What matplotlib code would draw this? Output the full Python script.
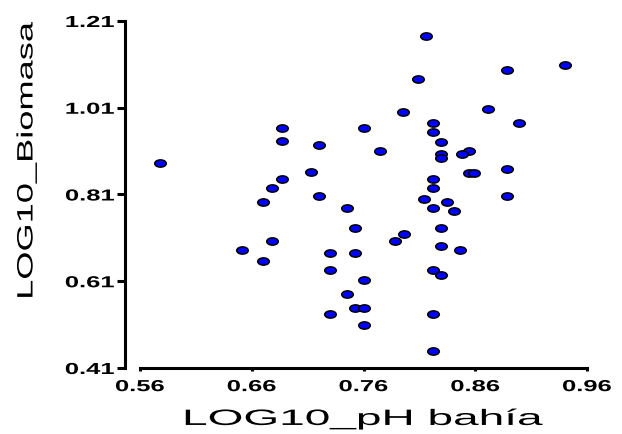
import matplotlib
matplotlib.use('Agg')
from matplotlib import pyplot as plt
from matplotlib.path import Path
from matplotlib.patheffects import AbstractPathEffect
from matplotlib.transforms import Affine2D

log_ph = [0.578, 0.687, 0.687, 0.720, 0.713, 0.687, 0.678, 0.720, 0.670, 0.678,
          0.651, 0.730, 0.670, 0.730, 0.730, 0.816, 0.888, 0.809, 0.795, 0.871,
          0.760, 0.822, 0.899, 0.822, 0.829, 0.775, 0.854, 0.848, 0.829, 0.829,
          0.854, 0.859, 0.888, 0.822, 0.822, 0.888, 0.814, 0.835, 0.745, 0.822,
          0.841, 0.752, 0.796, 0.788, 0.829, 0.829, 0.846, 0.752, 0.822, 0.829,
          0.760, 0.745, 0.752, 0.760, 0.822, 0.760, 0.822, 0.940]
log_biomasa = [0.883, 0.964, 0.933, 0.923, 0.863, 0.846, 0.826, 0.806, 0.793, 0.702,
               0.682, 0.676, 0.656, 0.635, 0.534, 1.175, 1.098, 1.077, 1.001, 1.007,
               0.964, 0.974, 0.974, 0.953, 0.930, 0.910, 0.910, 0.903, 0.904, 0.893,
               0.860, 0.860, 0.869, 0.846, 0.826, 0.806, 0.799, 0.793, 0.780, 0.780,
               0.773, 0.732, 0.719, 0.702, 0.732, 0.692, 0.682, 0.676, 0.635, 0.625,
               0.614, 0.581, 0.548, 0.548, 0.534, 0.508, 0.450, 1.108]
x_ticks = [0.56, 0.66, 0.76, 0.86, 0.96]
y_ticks = [0.41, 0.61, 0.81, 1.01, 1.21]
x_label = 'LOG10_pH bahía'
y_label = 'LOG10_Biomasa'


class Stretch(AbstractPathEffect):
    # widen glyphs along the text direction (the source image text is stretched)
    def __init__(self, sx, anchor='center'):
        super().__init__()
        self.sx = sx
        self.anchor = anchor

    def draw_path(self, renderer, gc, tpath, affine, rgbFace=None):
        ext = tpath.get_extents()
        if self.anchor == 'right':
            cx = ext.x1
        else:
            cx = (ext.x0 + ext.x1) / 2
        t = Affine2D().translate(-cx, 0).scale(self.sx, 1).translate(cx, 0)
        renderer.draw_path(gc, tpath, t + affine, rgbFace)


plt.rcParams['font.family'] = ['Liberation Sans', 'DejaVu Sans']

fig = plt.figure(figsize=(6.22, 4.35), dpi=100)
ax = fig.add_axes([140 / 622, 1 - 369 / 435, 447 / 622, 347 / 435])

ellipse = Path.unit_circle().transformed(Affine2D().scale(1, 0.63))
ax.plot(log_ph, log_biomasa, linestyle='none', marker=ellipse, markersize=8.3,
        markerfacecolor='#0000ff', markeredgecolor='black', markeredgewidth=1.1,
        clip_on=False)

ax.set_xlim(x_ticks[0], x_ticks[-1])
ax.set_ylim(y_ticks[0], y_ticks[-1])
ax.set_xticks(x_ticks, ['%.2f' % v for v in x_ticks])
ax.set_yticks(y_ticks, ['%.2f' % v for v in y_ticks])

for s in ['top', 'right']:
    ax.spines[s].set_visible(False)
ax.spines['left'].set_position(('outward', 10.8))
ax.spines['left'].set_linewidth(2.2)
ax.spines['bottom'].set_linewidth(2.2)

ax.tick_params(axis='x', direction='out', length=2.5, width=2.2, pad=5.5,
               labelsize=11.5)
ax.tick_params(axis='y', direction='out', length=6, width=2.2, pad=1.5,
               labelsize=11.5)
for lab in ax.get_xticklabels():
    lab.set_fontweight('bold')
    lab.set_path_effects([Stretch(1.6)])
for lab in ax.get_yticklabels():
    lab.set_fontweight('bold')
    lab.set_path_effects([Stretch(1.6, 'right')])

ax.set_xlabel(x_label, fontsize=16, path_effects=[Stretch(2.07)])
ax.xaxis.set_label_coords(0.5, -0.118)
ax.set_ylabel(y_label, fontsize=16, va='center', path_effects=[Stretch(1.63)])
ax.yaxis.set_label_coords(-0.2528, 0.599)

fig.savefig('out.png', dpi=100)
